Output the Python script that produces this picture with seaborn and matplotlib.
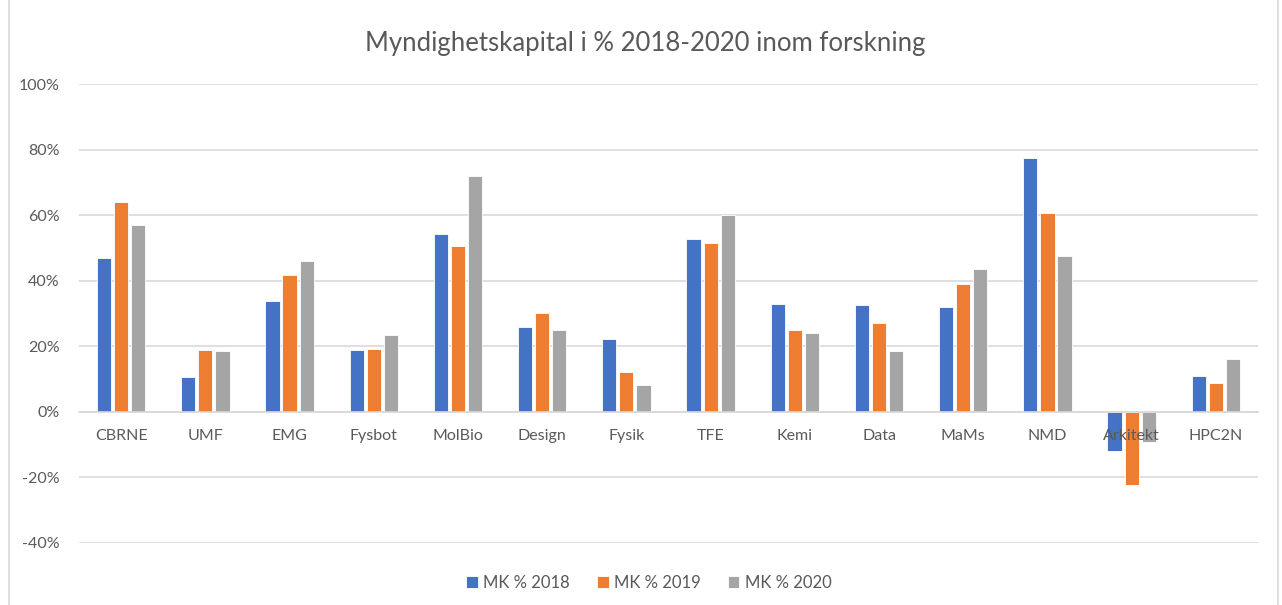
import numpy as np
import pandas as pd
import matplotlib
matplotlib.use('Agg')
import matplotlib.pyplot as plt
import matplotlib.ticker as mticker
import seaborn as sns

categories = ['CBRNE', 'UMF', 'EMG', 'Fysbot', 'MolBio', 'Design', 'Fysik',
              'TFE', 'Kemi', 'Data', 'MaMs', 'NMD', 'Arkitekt', 'HPC2N']
mk_2018 = [47.0, 10.7, 33.9, 18.8, 54.2, 25.9, 22.3, 52.7, 33.0, 32.5, 32.1, 77.3, -11.9, 11.0]
mk_2019 = [64.0, 18.8, 41.7, 19.1, 50.6, 30.1, 12.2, 51.5, 25.0, 27.1, 38.9, 60.7, -22.3, 8.9]
mk_2020 = [57.1, 18.5, 46.1, 23.5, 72.0, 25.0, 8.1, 60.1, 24.2, 18.5, 43.7, 47.4, -9.3, 16.0]
series_names = ['MK % 2018', 'MK % 2019', 'MK % 2020']
colors = ['#4472C4', '#ED7D31', '#A5A5A5']

df = pd.DataFrame({
    'Enhet': categories * 3,
    'Serie': np.repeat(series_names, len(categories)),
    'Värde': np.array(mk_2018 + mk_2019 + mk_2020) / 100,
})

sns.set_style('white')
plt.rcParams['font.family'] = ['Lato', 'DejaVu Sans']
text_color = '#595959'
grid_color = '#D9D9D9'

fig = plt.figure(figsize=(12.82, 6.05), dpi=100)
ax = fig.add_axes([79 / 1282, 62 / 605, (1258 - 79) / 1282, (543 - 84) / 605])

sns.barplot(data=df, x='Enhet', y='Värde', hue='Serie', palette=colors,
            width=0.61, gap=0.17, ax=ax, edgecolor='white', linewidth=0.6,
            saturation=1)

ax.set_ylim(-0.4, 1.0)
ax.set_xlim(-0.5, len(categories) - 0.5)
ax.yaxis.set_major_locator(mticker.MultipleLocator(0.2))
ax.yaxis.set_major_formatter(mticker.FuncFormatter(lambda v, p: f'{v * 100:.0f}%'))
ax.grid(axis='y', color=grid_color, linewidth=1.2)
ax.set_axisbelow(True)
ax.xaxis.set_zorder(3)

for s in ax.spines.values():
    s.set_visible(False)
ax.spines['bottom'].set_visible(True)
ax.spines['bottom'].set_position(('data', 0))
ax.spines['bottom'].set_color(grid_color)
ax.spines['bottom'].set_linewidth(1.2)

ax.tick_params(axis='both', length=0, colors=text_color, labelsize=11.5)
ax.tick_params(axis='x', pad=12)
ax.tick_params(axis='y', pad=14)
ax.set_xlabel('')
ax.set_ylabel('')

leg = ax.legend(loc='center', bbox_to_anchor=(649 / 1282, 22 / 605),
                bbox_transform=fig.transFigure, ncol=3, frameon=False,
                fontsize=12, handlelength=0.7, handleheight=0.7,
                handletextpad=0.35, columnspacing=1.6)
for t in leg.get_texts():
    t.set_color(text_color)

fig.text(0.503, 1 - 44 / 605, 'Myndighetskapital i % 2018-2020 inom forskning',
         ha='center', va='center', fontsize=18.5, color=text_color)

border = plt.Rectangle((9 / 1282, -0.01), (1278 - 9) / 1282, 1.1,
                       transform=fig.transFigure, fill=False,
                       edgecolor='#D9D9D9', linewidth=1.2)
fig.add_artist(border)

fig.savefig('out.png', dpi=100, facecolor='white')
